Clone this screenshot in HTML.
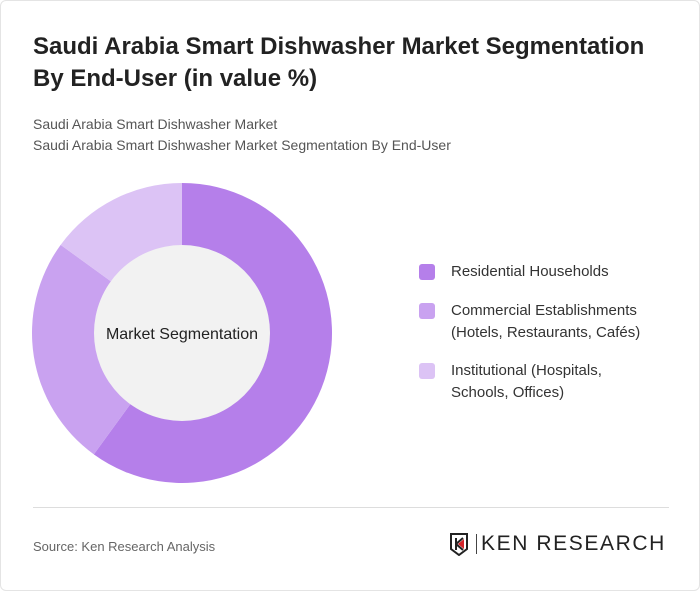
<!DOCTYPE html>
<html><head><meta charset="utf-8"><style>
body{margin:0;background:#fff;font-family:"Liberation Sans",sans-serif}
#card{position:absolute;left:0;top:0;width:698px;height:589px;border:1px solid #e4e4e4;border-radius:6px;background:#fff}
h1{position:absolute;left:32px;top:30px;margin:0;font-size:24px;line-height:32px;font-weight:bold;color:#222;width:630px}
.sub{position:absolute;left:32px;font-size:14px;color:#555}
.leg{position:absolute;left:418px;font-size:15px;color:#333;line-height:22px}
.sw{position:absolute;left:0;top:3px;width:16px;height:16px;border-radius:3px}
.lt{margin-left:32px;display:block}
</style></head><body>
<div id="card">
<h1>Saudi Arabia Smart Dishwasher Market Segmentation By End-User (in value %)</h1>
<div class="sub" style="top:115px">Saudi Arabia Smart Dishwasher Market</div>
<div class="sub" style="top:136px">Saudi Arabia Smart Dishwasher Market Segmentation By End-User</div>
<svg id="donut" width="700" height="591" style="position:absolute;left:0;top:0"></svg>
<div class="leg" style="top:260px"><span class="sw" style="background:#b57fea"></span><span class="lt">Residential Households</span></div>
<div class="leg" style="top:299px"><span class="sw" style="background:#c9a2f0"></span><span class="lt">Commercial Establishments<br>(Hotels, Restaurants, Cafés)</span></div>
<div class="leg" style="top:359px"><span class="sw" style="background:#dcc3f5"></span><span class="lt">Institutional (Hospitals,<br>Schools, Offices)</span></div>
<div style="position:absolute;left:32px;top:506px;width:636px;height:1px;background:#ddd"></div>
<div class="sub" style="top:538px;font-size:13px;color:#666">Source: Ken Research Analysis</div>
<div style="position:absolute;left:448px;top:531px;height:24px">
<svg width="22" height="24" style="position:absolute;left:0;top:0"><path d="M2 2h16v15l-8 6-8-6z" fill="none" stroke="#222" stroke-width="2"/><path d="M7 6v12M7 12l7-6M7 12l7 6" stroke="#222" stroke-width="2" fill="none"/><path d="M9 12l6-5v10z" fill="#d3232a"/></svg>
<div style="position:absolute;left:27px;top:2px;width:1px;height:20px;background:#444"></div>
<span style="position:absolute;left:32px;top:0;font-size:21px;letter-spacing:1.6px;color:#222;white-space:nowrap">KEN RESEARCH</span>
</div>
</div>
<script>
const categories=["Residential Households","Commercial Establishments","Institutional"];
const values=[60,25,15];
const colors=["#b57fea","#c9a2f0","#dcc3f5"];
const svg=document.getElementById('donut');
const cx=181,cy=332,R=150,r=88;
const total=values.reduce((a,b)=>a+b,0);
let a0=0;
function pt(a,rad){return [cx+rad*Math.sin(a),cy-rad*Math.cos(a)];}
values.forEach((v,i)=>{
 const a1=a0+v/total*2*Math.PI;
 const [x0,y0]=pt(a0,R),[x1,y1]=pt(a1,R);
 const large=(a1-a0)>Math.PI?1:0;
 const p=document.createElementNS('http://www.w3.org/2000/svg','path');
 p.setAttribute('d',`M${cx},${cy}L${x0},${y0}A${R},${R} 0 ${large} 1 ${x1},${y1}Z`);
 p.setAttribute('fill',colors[i]);
 
 
 svg.appendChild(p);
 a0=a1;
});
const c=document.createElementNS('http://www.w3.org/2000/svg','circle');
c.setAttribute('cx',cx);c.setAttribute('cy',cy);c.setAttribute('r',r);c.setAttribute('fill','#f2f2f2');


svg.appendChild(c);
const t=document.createElementNS('http://www.w3.org/2000/svg','text');
t.setAttribute('x',cx);t.setAttribute('y',cy+6);t.setAttribute('text-anchor','middle');
t.setAttribute('font-size','16');t.setAttribute('fill','#222');t.setAttribute('font-family','Liberation Sans, sans-serif');
t.textContent='Market Segmentation';


svg.appendChild(t);
</script>
</body></html>
